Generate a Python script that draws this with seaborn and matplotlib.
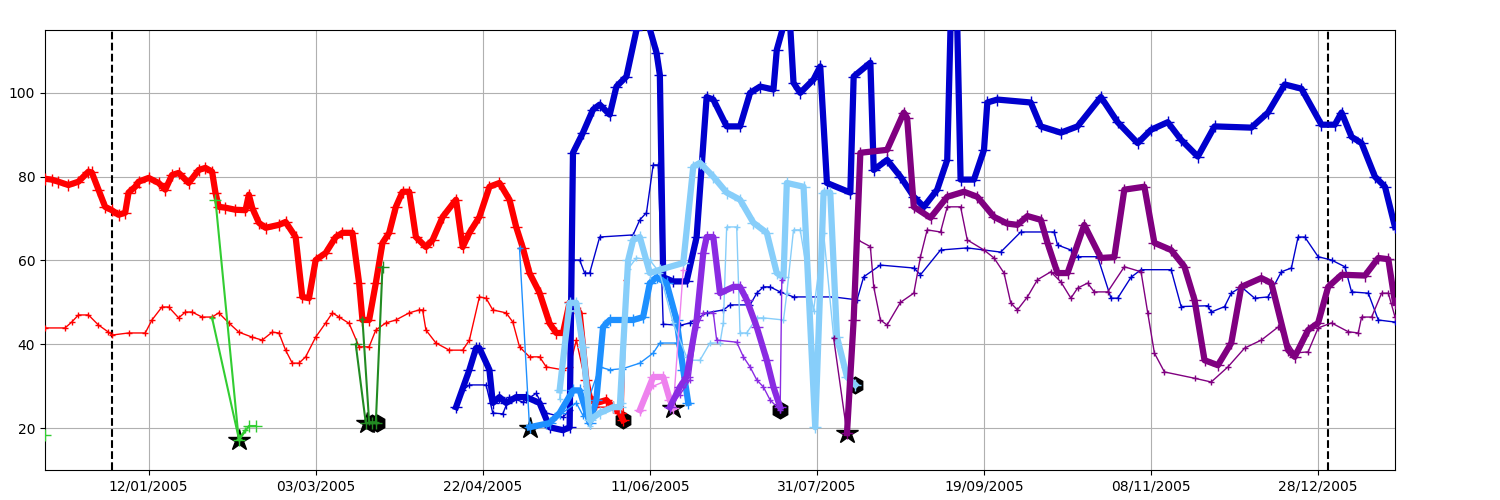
import matplotlib
matplotlib.use('Agg')
import matplotlib.pyplot as plt
import matplotlib.dates as mdates
import seaborn as sns
import pandas as pd

start = pd.Timestamp('2005-01-01')

# days counted from 01/01/2005
red_thick_day = [-20, -18, -16, -13, -10, -7, -6, -4, -2, 0, 2, 4, 5, 7, 8, 11, 14, 16, 18, 20, 23, 26, 28, 30, 31, 32, 34, 37, 40, 41, 42, 44, 46, 50, 52, 55, 57, 59, 61, 64, 67, 69, 72, 74, 75, 77, 79, 81, 83, 85, 87, 89, 91, 94, 96, 99, 103, 105, 107, 110, 113, 116, 119, 121, 123, 125, 128, 131, 133, 135, 137, 140, 142, 143, 145, 148, 150, 152, 153]
red_thick_val = [79.5, 79.3, 78.8, 78, 78.8, 81.2, 81, 76.9, 72.8, 72, 70.9, 71.4, 76.2, 77.6, 78.8, 79.7, 78.5, 76.9, 80.4, 80.9, 78.5, 81.6, 82.1, 81.2, 76.2, 72.8, 72.6, 72.1, 72, 75.7, 72.6, 69, 67.8, 68.5, 69.2, 65.6, 51.3, 51, 60.1, 61.8, 65.6, 66.6, 66.6, 54.6, 45.8, 45.8, 54.6, 64.2, 66.6, 72.8, 76.4, 76.4, 65.6, 63.2, 64.9, 70.4, 74.5, 63.2, 66.6, 70.4, 77.6, 78.5, 74.5, 68, 63, 57, 52.3, 45, 42.7, 42.7, 50, 47.5, 31.5, 27.4, 26, 26.7, 25, 23.6, 21.9]

red_thin_day = [-20, -14, -12, -10, -7, -4, -1, 0, 5, 10, 12, 15, 17, 20, 22, 24, 27, 30, 32, 35, 38, 42, 45, 48, 50, 52, 54, 56, 58, 61, 64, 66, 68, 71, 74, 77, 79, 82, 85, 89, 92, 93, 94, 97, 101, 105, 107, 110, 112, 114, 118, 120, 122, 125, 128, 130, 135, 137, 139, 142, 145, 151, 153, 154]
red_thin_val = [43.9, 43.9, 45.3, 47, 47, 44.6, 42.9, 42.2, 42.7, 42.7, 45.8, 48.9, 48.9, 46.3, 47.7, 47.7, 46.5, 46.5, 47.5, 45.1, 42.9, 41.7, 41, 42.9, 42.7, 38.6, 35.5, 35.5, 37, 41.7, 45.1, 47.5, 46.5, 45, 39.4, 39.4, 43.4, 45.1, 45.8, 47.5, 48.2, 48.2, 43.4, 40.3, 38.6, 38.6, 41, 51.3, 51, 48.2, 47.5, 45.3, 39.4, 37, 37, 34.6, 33.9, 34.6, 41, 30, 25, 25, 23.6, 55.4]

lime_a_day = [31, 38, 41, 43]
lime_a_val = [74.5, 17.1, 20.5, 20.5]
lime_b_day = [30, 38, 40]
lime_b_val = [46.3, 17.5, 19.5]
lime_edge_day = [-20]
lime_edge_val = [18.3]

forest_a_day = [73, 76, 78, 79, 81]
forest_a_val = [40, 21.2, 21.2, 21.2, 58.5]
forest_b_day = [75, 77, 79]
forest_b_val = [46, 21.4, 21.4]

blue_thick_day = [103, 107, 109, 110, 113, 114, 116, 118, 121, 124, 128, 131, 135, 137, 138, 141, 144, 146, 149, 151, 154, 157, 160, 163, 164, 165, 168, 172, 175, 178, 180, 184, 188, 191, 194, 198, 199, 201, 203, 204, 206, 210, 212, 214, 221, 222, 227, 228, 232, 236, 240, 243, 247, 250, 251, 253, 254, 258, 261, 262, 265, 275, 278, 284, 289, 296, 301, 307, 311, 316, 320, 325, 330, 341, 346, 351, 356, 362, 366, 368, 371, 374, 378, 381, 384]
blue_thick_val = [25, 33.9, 39.1, 39.1, 33.9, 26, 27.4, 26, 27.4, 27.4, 26, 20.2, 19.5, 20.2, 85.7, 90.5, 96, 97.2, 94.8, 101.5, 103.9, 115, 118, 109.6, 104.3, 56, 55, 55, 65.6, 99, 98.4, 92, 92, 100, 101.5, 100.8, 110.3, 116, 116, 102.4, 100, 103.2, 106.3, 78.5, 76.2, 103.9, 107.2, 81.6, 84, 80, 75.2, 72.8, 76.9, 84, 116, 116, 79.3, 79.3, 86.4, 97.7, 98.4, 97.7, 92, 90.5, 92, 99, 93, 88, 91.2, 93, 88.8, 84.8, 92, 91.7, 95.3, 102, 101, 92.4, 92.4, 95.3, 89.5, 88, 80, 77.6, 68]

blue_thin_day = [105, 107, 112, 114, 117, 119, 123, 127, 130, 135, 137, 138, 140, 141.5, 143, 146, 156, 158, 160, 162, 163.5, 165, 170, 173, 178, 183, 185, 191, 193, 195, 197, 200, 204, 216, 223, 225, 230, 240, 242, 248, 256, 266, 272, 282, 283, 287, 289, 295, 299, 301, 305, 308, 317, 320, 328, 329, 333, 335, 338, 342, 346, 350, 353, 355, 357, 361, 365, 369, 371, 376, 379, 384]
blue_thin_val = [29, 30.3, 30.3, 23.6, 23.4, 27.4, 26.2, 28.3, 23.6, 22.6, 24.3, 60.1, 60.1, 57, 57, 65.6, 66.1, 69.7, 71.4, 82.8, 82.8, 44.8, 44.5, 45.1, 47.5, 48.2, 49.4, 49.4, 52.2, 53.7, 53.7, 52.5, 51.3, 51.3, 50.6, 56.1, 58.9, 58.2, 56.6, 62.5, 63, 62, 66.8, 66.8, 63.7, 62.5, 60.9, 60.9, 51, 51, 56, 57.8, 57.8, 49, 49.2, 47.7, 49, 52.2, 53.7, 51, 51.3, 57.3, 58.2, 65.6, 65.6, 60.9, 60.1, 58.5, 52.5, 52.2, 45.8, 45.3]

dodger_thick_day = [125, 131, 134, 138, 140, 143, 145, 147, 149, 153, 156, 159, 161, 163, 166, 169, 171, 172.5]
dodger_thick_val = [20.2, 21.2, 23.6, 29, 29, 21.2, 26.7, 44.1, 45.8, 45.8, 45.8, 46.5, 54.6, 56, 54.6, 45.8, 33.9, 26]
dodger_thin_day = [122, 125, 130, 133, 139, 141, 146, 149, 153, 158, 162, 164, 169, 172.5]
dodger_thin_val = [63, 20.2, 20.5, 22.6, 26, 23, 34.6, 33.9, 34.2, 35.5, 37.9, 40.3, 40.3, 26]

sky_thick_day = [134, 137, 139, 141, 143, 146, 150, 152, 154.5, 156, 158, 161, 164, 171, 174, 176, 180, 184, 188, 192, 196, 199, 201, 202, 207, 210.5, 213, 215, 217, 220, 222.5]
sky_thick_val = [29, 49.9, 49.9, 39.4, 21.9, 23.6, 25, 25, 60, 64.9, 65.6, 57, 57.8, 59.4, 82.4, 83.3, 80, 76.2, 74.5, 69, 66.6, 57, 56, 78.5, 77.6, 20.2, 76.2, 76.2, 41.8, 32.2, 30.3]
sky_thin_day = [134, 137, 139, 143, 146, 153, 154.5, 157, 161, 164, 168, 172, 173, 176, 179, 182, 183, 184, 187, 188, 190, 193, 195, 201, 202, 204, 206, 210, 213, 216, 219, 222]
sky_thin_val = [27, 48, 48, 20.5, 24, 26, 58, 60.6, 60.1, 57, 45, 37, 36.2, 36.2, 40.3, 40.3, 45.1, 68, 68, 42.7, 42.7, 46.3, 46.3, 45.8, 52.2, 67.3, 67.3, 48, 66.6, 41.8, 34.6, 30.7]

violet_thick_day = [158, 162, 165, 167, 168]
violet_thick_val = [24.3, 32.2, 32.2, 26.7, 24.8]
violet_thin_day = [158, 162, 165, 168, 171]
violet_thin_val = [24, 30, 31, 24.8, 57.8]

bviolet_thick_day = [167, 170, 172, 175, 177, 178, 180, 182, 186, 188, 190, 193, 196, 198, 200]
bviolet_thick_val = [25, 29.8, 32.2, 45.8, 61.8, 65.6, 65.6, 52.2, 53.7, 53.7, 50.6, 44.1, 36.2, 29.8, 25]
bviolet_thin_day = [167, 170, 173, 175, 177, 180, 181, 187, 189, 191, 193, 195, 197, 200, 200.5]
bviolet_thin_val = [25, 28, 31.5, 44.1, 47.5, 47.5, 41, 40.5, 37, 34.6, 31.5, 29.8, 26.7, 24.3, 55.4]

purple_thick_day = [220, 222, 224, 232, 237, 238, 240, 245, 250, 255, 259, 264, 268, 271, 274, 278, 280, 283, 286, 291, 296, 300, 303, 309, 312, 317, 321, 324, 327, 331, 335, 338, 344, 347, 352, 354, 358, 361, 364, 368, 375, 379, 382, 384]
purple_thick_val = [18.8, 45.8, 85.7, 86.4, 95.3, 94, 72.8, 70.2, 75.2, 76.4, 75.2, 70.4, 68.8, 68.5, 70.6, 69.7, 64.2, 57, 57, 68.5, 60.6, 60.8, 76.9, 77.6, 64.2, 62.5, 58.5, 50.6, 36.2, 35, 40.3, 53.7, 55.8, 54.6, 38.6, 37, 43.4, 45.1, 53.7, 56.6, 56.4, 60.6, 60.3, 49.9]
purple_thin_day = [216, 220, 223, 227, 228, 230, 232, 236, 240, 242, 244, 248, 250, 254, 256, 261, 264, 267, 269, 271, 274, 277, 281, 284, 287, 289, 292, 294, 298, 303, 308, 310, 312, 315, 324, 329, 334, 339, 344, 349, 354, 358, 361, 365, 370, 373, 374, 377, 380, 382, 384]
purple_thin_val = [41.5, 18.8, 65, 63.3, 53.7, 45.8, 44.6, 50, 52.2, 60.9, 67.3, 66.8, 72.8, 72.8, 64.9, 62.5, 60.6, 57, 49.9, 48.2, 51.3, 55.4, 57.3, 54.9, 51, 53.4, 54.6, 52.5, 52.5, 58.5, 57.3, 47.5, 37.9, 33.4, 31.9, 31, 34.6, 39.1, 41, 44.1, 37.9, 38.2, 43.9, 45.1, 43, 42.7, 46.5, 46.5, 52.2, 52.2, 46.5]

star_day = [38, 76.5, 125, 168, 220]
star_val = [17.1, 21.2, 20, 24.8, 18.8]
hex_day = [78, 79.5, 153, 200, 222.5]
hex_val = [21.2, 21.2, 21.9, 24.3, 30.3]

event_days = [0, 364]
tick_labels = ['12/01/2005', '03/03/2005', '22/04/2005', '11/06/2005',
               '31/07/2005', '19/09/2005', '08/11/2005', '28/12/2005']


def to_dates(days):
    return start + pd.to_timedelta(days, unit='D')


fig, ax = plt.subplots(figsize=(15, 5))
fig.subplots_adjust(left=0.03, right=0.93, bottom=0.06, top=0.94)

ax.plot(to_dates(star_day), star_val, '*', color='black', markersize=16, zorder=2)
ax.plot(to_dates(hex_day), hex_val, 'h', color='black', markersize=12, zorder=2)

thick, thin = 4.5, 1.0
series = [
    (red_thick_day, red_thick_val, 'red', thick, 9),
    (red_thin_day, red_thin_val, 'red', thin, 5),
    (lime_a_day, lime_a_val, 'limegreen', 1.5, 9),
    (lime_b_day, lime_b_val, 'limegreen', 1.5, 5),
    (lime_edge_day, lime_edge_val, 'limegreen', 1.5, 9),
    (forest_a_day, forest_a_val, 'forestgreen', 1.5, 9),
    (forest_b_day, forest_b_val, 'forestgreen', 1.5, 5),
    (blue_thick_day, blue_thick_val, 'mediumblue', thick, 9),
    (blue_thin_day, blue_thin_val, 'mediumblue', thin, 5),
    (dodger_thick_day, dodger_thick_val, 'dodgerblue', thick, 9),
    (dodger_thin_day, dodger_thin_val, 'dodgerblue', thin, 5),
    (sky_thick_day, sky_thick_val, 'lightskyblue', thick, 9),
    (sky_thin_day, sky_thin_val, 'lightskyblue', thin, 5),
    (violet_thick_day, violet_thick_val, 'violet', thick, 9),
    (violet_thin_day, violet_thin_val, 'violet', thin, 5),
    (bviolet_thick_day, bviolet_thick_val, 'blueviolet', thick, 9),
    (bviolet_thin_day, bviolet_thin_val, 'blueviolet', thin, 5),
    (purple_thick_day, purple_thick_val, 'purple', thick, 9),
    (purple_thin_day, purple_thin_val, 'purple', thin, 5),
]
for d, v, c, lw, ms in series:
    sns.lineplot(x=to_dates(d), y=v, color=c, linewidth=lw, marker='+',
                 markersize=ms, markeredgewidth=1, markeredgecolor=c,
                 estimator=None, sort=False, ax=ax, zorder=3)

for d in event_days:
    ax.axvline(to_dates([d])[0], color='black', linestyle='--', linewidth=1.5)

ax.set_xticks(pd.to_datetime(tick_labels, dayfirst=True))
ax.xaxis.set_major_formatter(mdates.DateFormatter('%d/%m/%Y'))
ax.set_xlim(to_dates([-20])[0], to_dates([384])[0])
ax.set_ylim(10, 115)
ax.set_xlabel('')
ax.set_ylabel('')
ax.grid(True)

plt.savefig('out.png', dpi=100)
